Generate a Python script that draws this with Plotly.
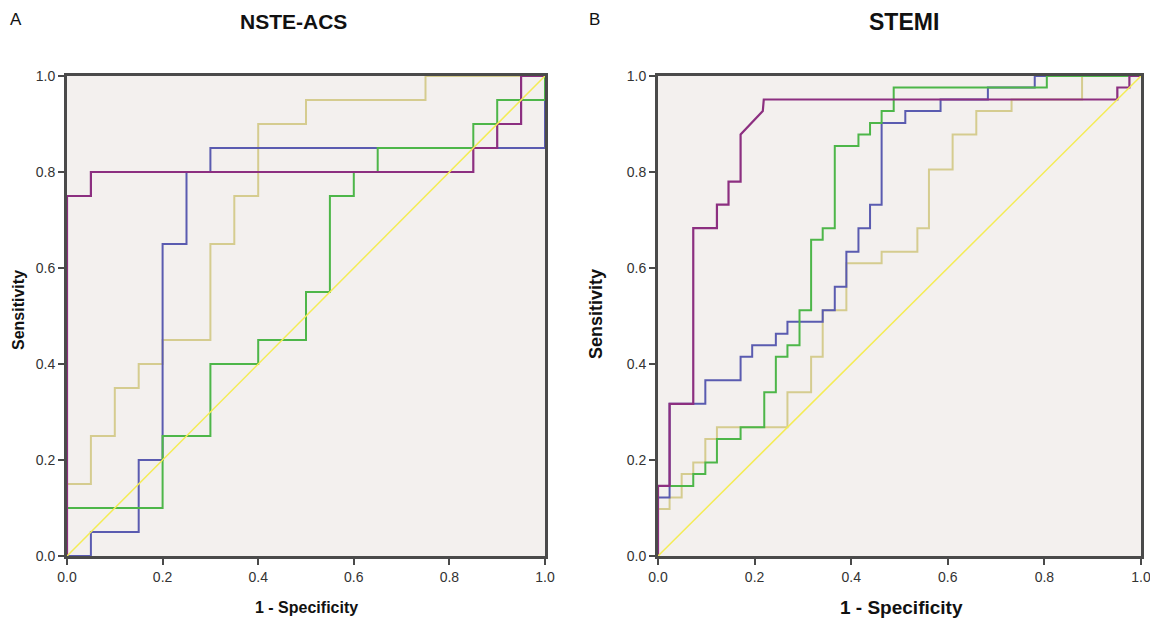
import plotly.graph_objects as go

# ---------------- Panel A: NSTE-ACS (ROC corner coordinates) ----------------
a_tan_x = [0, 0, 0.05, 0.05, 0.10, 0.10, 0.15, 0.15, 0.20, 0.20, 0.30, 0.30, 0.35, 0.35, 0.40, 0.40, 0.50, 0.50, 0.75, 0.75, 1.0]
a_tan_y = [0, 0.15, 0.15, 0.25, 0.25, 0.35, 0.35, 0.40, 0.40, 0.45, 0.45, 0.65, 0.65, 0.75, 0.75, 0.90, 0.90, 0.95, 0.95, 1.0, 1.0]

a_blue_x = [0, 0.05, 0.05, 0.15, 0.15, 0.20, 0.20, 0.25, 0.25, 0.30, 0.30, 1.0, 1.0]
a_blue_y = [0, 0, 0.05, 0.05, 0.20, 0.20, 0.65, 0.65, 0.80, 0.80, 0.85, 0.85, 1.0]

a_green_x = [0, 0, 0.20, 0.20, 0.30, 0.30, 0.40, 0.40, 0.50, 0.50, 0.55, 0.55, 0.60, 0.60, 0.65, 0.65, 0.85, 0.85, 0.90, 0.90, 1.0, 1.0]
a_green_y = [0, 0.10, 0.10, 0.25, 0.25, 0.40, 0.40, 0.45, 0.45, 0.55, 0.55, 0.75, 0.75, 0.80, 0.80, 0.85, 0.85, 0.90, 0.90, 0.95, 0.95, 1.0]

a_purple_x = [0, 0, 0.05, 0.05, 0.85, 0.85, 0.90, 0.90, 0.95, 0.95, 1.0]
a_purple_y = [0, 0.75, 0.75, 0.80, 0.80, 0.85, 0.85, 0.90, 0.90, 1.0, 1.0]

# ---------------- Panel B: STEMI (ROC corner coordinates) ----------------
b_tan_x = [0, 0, 0.024, 0.024, 0.049, 0.049, 0.073, 0.073, 0.098, 0.098, 0.122, 0.122, 0.268, 0.268,
           0.317, 0.317, 0.341, 0.341, 0.390, 0.390, 0.463, 0.463, 0.537, 0.537, 0.561, 0.561,
           0.610, 0.610, 0.659, 0.659, 0.732, 0.732, 0.878, 0.878, 1.0]
b_tan_y = [0, 0.098, 0.098, 0.122, 0.122, 0.171, 0.171, 0.195, 0.195, 0.244, 0.244, 0.268, 0.268, 0.341,
           0.341, 0.415, 0.415, 0.512, 0.512, 0.610, 0.610, 0.634, 0.634, 0.683, 0.683, 0.805,
           0.805, 0.878, 0.878, 0.927, 0.927, 0.951, 0.951, 1.0, 1.0]

b_blue_x = [0, 0, 0.024, 0.024, 0.098, 0.098, 0.171, 0.171, 0.195, 0.195, 0.244, 0.244, 0.268, 0.268,
            0.341, 0.341, 0.366, 0.366, 0.390, 0.390, 0.415, 0.415, 0.439, 0.439, 0.463, 0.463,
            0.512, 0.512, 0.585, 0.585, 0.683, 0.683, 0.780, 0.780, 1.0]
b_blue_y = [0, 0.122, 0.122, 0.317, 0.317, 0.366, 0.366, 0.415, 0.415, 0.439, 0.439, 0.463, 0.463, 0.488,
            0.488, 0.512, 0.512, 0.561, 0.561, 0.634, 0.634, 0.683, 0.683, 0.732, 0.732, 0.902,
            0.902, 0.927, 0.927, 0.951, 0.951, 0.976, 0.976, 1.0, 1.0]

b_green_x = [0, 0, 0.073, 0.073, 0.098, 0.098, 0.122, 0.122, 0.171, 0.171, 0.220, 0.220, 0.244, 0.244,
             0.268, 0.268, 0.293, 0.293, 0.317, 0.317, 0.341, 0.341, 0.366, 0.366, 0.415, 0.415,
             0.439, 0.439, 0.463, 0.463, 0.488, 0.488, 0.805, 0.805, 1.0]
b_green_y = [0, 0.146, 0.146, 0.171, 0.171, 0.195, 0.195, 0.244, 0.244, 0.268, 0.268, 0.341, 0.341, 0.415,
             0.415, 0.439, 0.439, 0.512, 0.512, 0.659, 0.659, 0.683, 0.683, 0.854, 0.854, 0.878,
             0.878, 0.902, 0.902, 0.927, 0.927, 0.976, 0.976, 1.0, 1.0]

b_purple_x = [0, 0, 0.024, 0.024, 0.073, 0.073, 0.122, 0.122, 0.146, 0.146, 0.171, 0.171, 0.217, 0.219,
              0.951, 0.951, 0.976, 0.976, 1.0]
b_purple_y = [0, 0.146, 0.146, 0.317, 0.317, 0.683, 0.683, 0.732, 0.732, 0.780, 0.780, 0.878, 0.927, 0.951,
              0.951, 0.976, 0.976, 1.0, 1.0]

ref_x = [0, 1]
ref_y = [0, 1]

tick_vals = [0.0, 0.2, 0.4, 0.6, 0.8, 1.0]
tick_text = ["0.0", "0.2", "0.4", "0.6", "0.8", "1.0"]

panel_titles = ["NSTE-ACS", "STEMI"]
panel_letters = ["A", "B"]
x_title = "1 - Specificity"
y_title = "Sensitivity"

C_TAN = "#D5CC8F"
C_BLUE = "#5A5BB0"
C_GREEN = "#4DB649"
C_PURPLE = "#8C2F80"
C_YELLOW = "#F4EC55"

# The page body has an 8px margin, so the figure is 8px smaller than the window
OFF = 8
W, H = 1158 - OFF, 624 - OFF
fig = go.Figure()

def add_panel(xa, ya, series):
    for xs, ys, col, w in series:
        fig.add_trace(go.Scatter(x=xs, y=ys, mode="lines", xaxis=xa, yaxis=ya,
                                 line=dict(color=col, width=w), showlegend=False,
                                 hoverinfo="skip"))

add_panel("x", "y", [
    (a_tan_x, a_tan_y, C_TAN, 2),
    (a_blue_x, a_blue_y, C_BLUE, 2),
    (a_green_x, a_green_y, C_GREEN, 2),
    (a_purple_x, a_purple_y, C_PURPLE, 2.2),
    (ref_x, ref_y, C_YELLOW, 1.5),
])
add_panel("x2", "y2", [
    (b_tan_x, b_tan_y, C_TAN, 2),
    (b_blue_x, b_blue_y, C_BLUE, 2),
    (b_green_x, b_green_y, C_GREEN, 2),
    (b_purple_x, b_purple_y, C_PURPLE, 2.2),
    (ref_x, ref_y, C_YELLOW, 1.5),
])

def px_x(p):
    return (p - OFF) / W

def px_y(p):
    return 1 - (p - OFF) / H

axis_common = dict(range=[0, 1], tickvals=tick_vals, ticktext=tick_text,
                   showgrid=False, zeroline=False, showline=True, mirror=True,
                   linecolor="#4a4a4a", linewidth=3, ticks="outside", ticklen=6,
                   tickwidth=2, tickcolor="#4a4a4a", automargin=False,
                   tickfont=dict(family="Liberation Sans, Arial", size=14, color="#333333"),
                   fixedrange=True)

fig.update_layout(
    width=W, height=H,
    margin=dict(l=0, r=0, t=0, b=0),
    paper_bgcolor="white",
    plot_bgcolor="#F3F0EE",
    xaxis=dict(domain=[px_x(67), px_x(545)], anchor="y", **axis_common),
    yaxis=dict(domain=[px_y(556), px_y(76)], anchor="x", **axis_common),
    xaxis2=dict(domain=[px_x(658), px_x(1141)], anchor="y2", **axis_common),
    yaxis2=dict(domain=[px_y(556), px_y(76)], anchor="x2", **axis_common),
)

ann = []
font_b = "Liberation Sans, Arial"
ann.append(dict(text=f"<b>{panel_titles[0]}</b>", x=px_x(293), y=px_y(22), xref="paper", yref="paper",
                showarrow=False, font=dict(family=font_b, size=21, color="#111111"),
                xanchor="center", yanchor="middle"))
ann.append(dict(text=f"<b>{panel_titles[1]}</b>", x=px_x(904), y=px_y(22), xref="paper", yref="paper",
                showarrow=False, font=dict(family=font_b, size=23, color="#111111"),
                xanchor="center", yanchor="middle"))
ann.append(dict(text=panel_letters[0], x=px_x(8), y=px_y(20), xref="paper", yref="paper",
                showarrow=False, font=dict(family=font_b, size=17, color="#111111"),
                xanchor="left", yanchor="middle"))
ann.append(dict(text=panel_letters[1], x=px_x(587), y=px_y(20), xref="paper", yref="paper",
                showarrow=False, font=dict(family=font_b, size=17, color="#111111"),
                xanchor="left", yanchor="middle"))
ann.append(dict(text=f"<b>{x_title}</b>", x=px_x(306), y=px_y(607), xref="paper", yref="paper",
                showarrow=False, font=dict(family=font_b, size=16, color="#111111"),
                xanchor="center", yanchor="middle"))
ann.append(dict(text=f"<b>{x_title}</b>", x=px_x(901), y=px_y(607), xref="paper", yref="paper",
                showarrow=False, font=dict(family=font_b, size=19, color="#111111"),
                xanchor="center", yanchor="middle"))
ann.append(dict(text=f"<b>{y_title}</b>", x=px_x(18), y=px_y(310), xref="paper", yref="paper",
                showarrow=False, textangle=-90, font=dict(family=font_b, size=16, color="#111111"),
                xanchor="center", yanchor="middle"))
ann.append(dict(text=f"<b>{y_title}</b>", x=px_x(596), y=px_y(314), xref="paper", yref="paper",
                showarrow=False, textangle=-90, font=dict(family=font_b, size=18, color="#111111"),
                xanchor="center", yanchor="middle"))
fig.update_layout(annotations=ann)

fig.write_html("out.html", post_script="document.body.style.overflow='hidden';")
